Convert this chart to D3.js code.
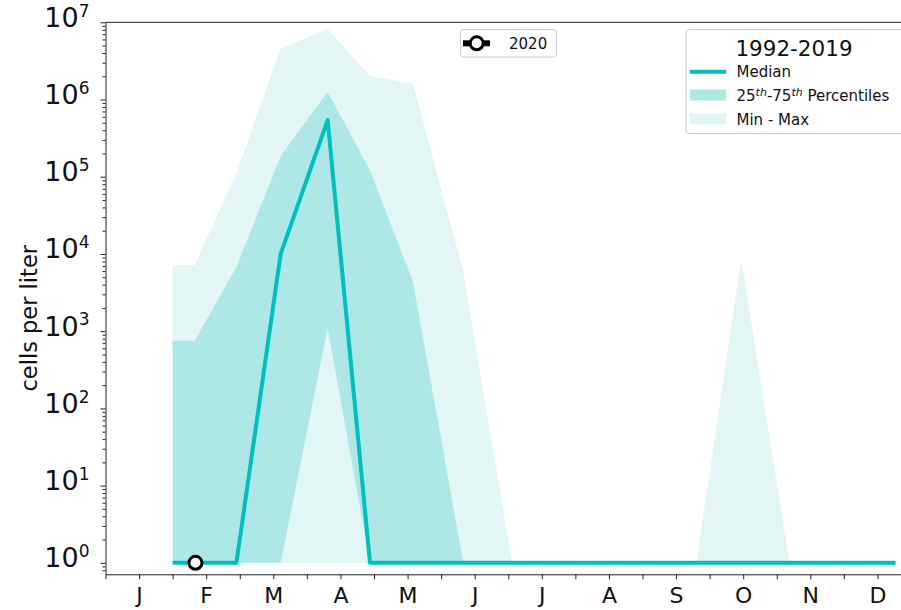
<!DOCTYPE html>
<html>
<head>
<meta charset="utf-8">
<script src="https://cdn.jsdelivr.net/npm/d3@7"></script>
<style>
  html, body { margin: 0; padding: 0; background: #fff; }
  svg { display: block; font-family: "DejaVu Sans", sans-serif; }
</style>
</head>
<body>
<svg id="chart" width="901" height="610"></svg>
<script>
// Month labels and sample positions (fractional month index, 0 = January)
const monthLabels = ["J", "F", "M", "A", "M", "J", "J", "A", "S", "O", "N", "D"];
const sampleMonths = [0.50, 0.83, 1.45, 2.11, 2.81, 3.44, 4.08, 4.83, 5.56, 6.25, 6.93, 7.62, 8.30, 8.97, 9.69, 10.48, 11.27];

// 1992-2019 climatology, cells per liter
const median = [1, 1, 1, 1.0e4, 5.4e5, 1, 1, 1, 1, 1, 1, 1, 1, 1, 1, 1, 1];
const p25    = [1, 1, 1, 1, 1.1e3, 1, 1, 1, 1, 1, 1, 1, 1, 1, 1, 1, 1];
const p75    = [750, 750, 6.8e3, 1.85e5, 1.26e6, 1.2e5, 4.4e3, 1, 1, 1, 1, 1, 1, 1, 1, 1, 1];
const minVal = [1, 1, 1, 1, 1, 1, 1, 1, 1, 1, 1, 1, 1, 1, 1, 1, 1];
const maxVal = [7.2e3, 7.2e3, 1.1e5, 4.6e6, 8.2e6, 2.0e6, 1.6e6, 5.9e3, 1, 1, 1, 1, 1, 8.5e3, 1, 1, 1];

// 2020 observations
const obsMonths = [0.84];
const obs2020 = [1];

const yTickExponents = [0, 1, 2, 3, 4, 5, 6, 7];

const svg = d3.select("#chart");
const plot = { left: 105.5, right: 911, top: 22.3, bottom: 574.3 };

const x = d3.scaleLinear().domain([-0.5, 11.5]).range([plot.left, plot.right]);
const y = d3.scaleLog().domain([0.71, 1e7]).range([plot.bottom, plot.top]);

const colLine = "#00bfbf";
const colIQR = "#ade8e6";
const colRange = "#e2f6f5";

svg.append("defs").append("clipPath").attr("id", "plotClip")
  .append("rect").attr("x", plot.left).attr("y", plot.top)
  .attr("width", plot.right - plot.left).attr("height", plot.bottom - plot.top);

const g = svg.append("g").attr("clip-path", "url(#plotClip)");

const rows = sampleMonths.map((m, i) => ({
  m, med: median[i], lo: p25[i], hi: p75[i], mn: minVal[i], mx: maxVal[i]
}));

// Min - Max envelope
g.append("path").datum(rows)
  .attr("fill", colRange)
  .attr("d", d3.area().x(d => x(d.m)).y0(d => y(d.mn)).y1(d => y(d.mx)));

// 25th - 75th percentile band
g.append("path").datum(rows)
  .attr("fill", colIQR)
  .attr("d", d3.area().x(d => x(d.m)).y0(d => y(d.lo)).y1(d => y(d.hi)));

// Median
g.append("path").datum(rows)
  .attr("fill", "none")
  .attr("stroke", colLine)
  .attr("stroke-width", 4)
  .attr("stroke-linejoin", "round")
  .attr("d", d3.line().x(d => x(d.m)).y(d => y(d.med)));

// 2020 points
g.selectAll("circle.obs").data(obsMonths.map((m, i) => ({ m, v: obs2020[i] })))
  .join("circle")
  .attr("class", "obs")
  .attr("cx", d => x(d.m)).attr("cy", d => y(d.v))
  .attr("r", 6.5)
  .attr("fill", "#fff").attr("stroke", "#000").attr("stroke-width", 3);

// Axes
const xTicks = d3.range(-0.5, 11.51, 0.5);
const xAxis = d3.axisBottom(x)
  .tickValues(xTicks)
  .tickSize(5)
  .tickSizeOuter(0)
  .tickFormat(d => Number.isInteger(d) ? monthLabels[d] : "");
const gx = svg.append("g").attr("transform", `translate(0,${plot.bottom})`).call(xAxis);
gx.select(".domain").attr("stroke", "#222");
gx.selectAll(".tick line").attr("stroke", "#222");
gx.selectAll(".tick text").attr("font-size", 22).attr("fill", "#111").attr("dy", "0.95em")
  .attr("font-family", "DejaVu Sans, sans-serif");

// Y axis with log minor ticks
const minorTicks = [];
for (let e = -1; e < 7; e++) {
  for (let k = 2; k <= 9; k++) {
    const v = k * Math.pow(10, e);
    if (v >= 0.71 && v <= 1e7) minorTicks.push(v);
  }
}
const gyMinor = svg.append("g").attr("transform", `translate(${plot.left},0)`)
  .call(d3.axisLeft(y).tickValues(minorTicks).tickSize(3).tickSizeOuter(0).tickFormat(""));
gyMinor.select(".domain").remove();
gyMinor.selectAll(".tick line").attr("stroke", "#222");

const gy = svg.append("g").attr("transform", `translate(${plot.left},0)`)
  .call(d3.axisLeft(y).tickValues(yTickExponents.map(e => Math.pow(10, e))).tickSize(5).tickSizeOuter(0).tickFormat(""));
gy.select(".domain").attr("stroke", "#222");
gy.selectAll(".tick line").attr("stroke", "#222");
gy.selectAll(".tick").each(function(d) {
  const e = Math.round(Math.log10(d));
  const t = d3.select(this).append("text")
    .attr("x", -16).attr("y", 0).attr("dy", "0.4em")
    .attr("text-anchor", "end")
    .attr("fill", "#111")
    .attr("font-family", "DejaVu Sans, sans-serif");
  t.append("tspan").attr("font-size", 27).text("10");
  t.append("tspan").attr("font-size", 17).attr("dy", "-0.6em").text(String(e));
});

// Top spine
svg.append("line")
  .attr("x1", plot.left).attr("x2", plot.right)
  .attr("y1", plot.top).attr("y2", plot.top)
  .attr("stroke", "#222");

// Y label
svg.append("text")
  .attr("transform", `translate(37,${(plot.top + plot.bottom) / 2 + 20}) rotate(-90)`)
  .attr("text-anchor", "middle")
  .attr("font-size", 22.5)
  .attr("fill", "#111")
  .text("cells per liter");

// Legend: 2020
const l1 = svg.append("g");
l1.append("rect").attr("x", 460.5).attr("y", 29.5).attr("width", 96).attr("height", 27.5)
  .attr("rx", 3).attr("fill", "#fff").attr("stroke", "#ccc");
l1.append("line").attr("x1", 463).attr("x2", 490).attr("y1", 43.3).attr("y2", 43.3)
  .attr("stroke", "#000").attr("stroke-width", 6);
l1.append("circle").attr("cx", 476.7).attr("cy", 43.3).attr("r", 6.5)
  .attr("fill", "#fff").attr("stroke", "#000").attr("stroke-width", 3);
l1.append("text").attr("x", 509).attr("y", 48.5).attr("font-size", 15).attr("fill", "#111").text("2020");

// Legend: 1992-2019
const l2 = svg.append("g");
l2.append("rect").attr("x", 686).attr("y", 29.5).attr("width", 240).attr("height", 104)
  .attr("rx", 3).attr("fill", "#fff").attr("fill-opacity", 0.8).attr("stroke", "#ccc");
l2.append("text").attr("x", 794).attr("y", 55.5).attr("text-anchor", "middle")
  .attr("font-size", 21.5).attr("fill", "#111").text("1992-2019");
l2.append("line").attr("x1", 690).attr("x2", 726).attr("y1", 71.7).attr("y2", 71.7)
  .attr("stroke", colLine).attr("stroke-width", 4);
l2.append("text").attr("x", 736.5).attr("y", 77).attr("font-size", 15).attr("fill", "#111").text("Median");
l2.append("rect").attr("x", 690).attr("y", 89.5).attr("width", 36).attr("height", 11).attr("fill", colIQR);
const pt = l2.append("text").attr("x", 736.5).attr("y", 101).attr("font-size", 15).attr("fill", "#111");
pt.append("tspan").text("25");
pt.append("tspan").attr("font-size", 11).attr("font-style", "italic").attr("dy", "-0.5em").text("th");
pt.append("tspan").attr("dy", "0.37em").text("-75");
pt.append("tspan").attr("font-size", 11).attr("font-style", "italic").attr("dy", "-0.5em").text("th");
pt.append("tspan").attr("dy", "0.37em").text(" Percentiles");
l2.append("rect").attr("x", 690).attr("y", 113.5).attr("width", 36).attr("height", 11).attr("fill", colRange);
l2.append("text").attr("x", 736.5).attr("y", 124.5).attr("font-size", 15).attr("fill", "#111").text("Min - Max");
</script>
</body>
</html>
